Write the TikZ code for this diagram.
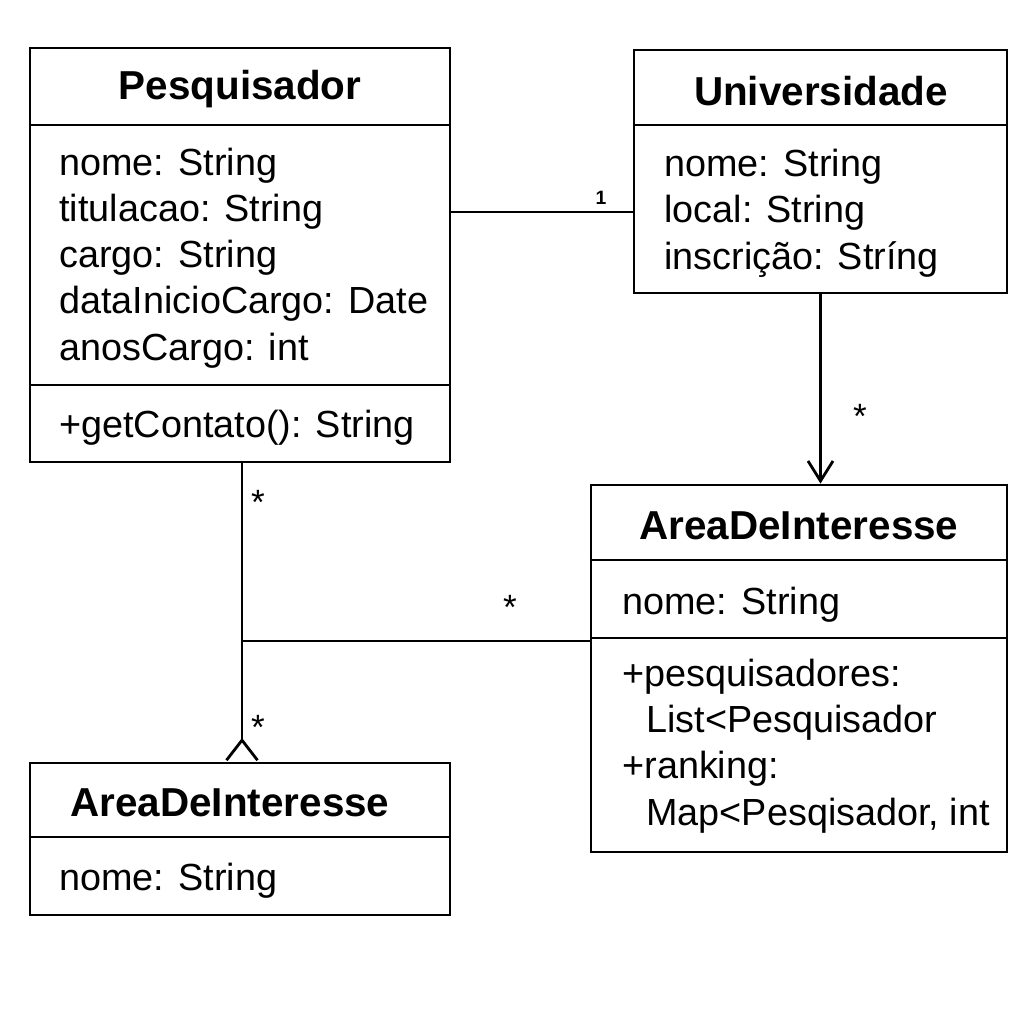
\documentclass[tikz,border=0pt]{standalone}
\usepackage{fontspec}
\setmainfont{Liberation Sans}
\usetikzlibrary{arrows.meta}

\begin{document}
\begin{tikzpicture}[
    line width=1.6pt,
    classbox/.style={draw, rectangle, inner sep=0pt},
    ctitle/.style={font=\fontsize{23}{27}\selectfont\bfseries},
    members/.style={anchor=base west, align=left, inner sep=0pt, font=\fontsize{21.5}{26.2}\selectfont},
    mult/.style={font=\fontsize{20}{24}\selectfont},
    assoc/.style={-{Straight Barb[length=0.4cm,width=0.5cm]}},
    back/.style={-{Straight Barb[reversed,length=0.4cm,width=0.62cm]}}
  ]
  \useasboundingbox (0,0) rectangle (20.48,-20.48);

  \node[classbox, minimum width=8.4cm, minimum height=8.28cm] (pes) at (4.8,-5.1) {};
  \node[classbox, minimum width=7.46cm, minimum height=4.86cm] (uni) at (16.41,-3.43) {};
  \node[classbox, minimum width=8.32cm, minimum height=7.34cm] (area) at (15.98,-13.37) {};
  \node[classbox, minimum width=8.4cm, minimum height=3.04cm] (arealeft) at (4.8,-16.78) {};

  \draw (pes.west |- 0,-2.5) -- (pes.east |- 0,-2.5);
  \draw (pes.west |- 0,-7.7) -- (pes.east |- 0,-7.7);
  \draw (uni.west |- 0,-2.5) -- (uni.east |- 0,-2.5);
  \draw (area.west |- 0,-11.2) -- (area.east |- 0,-11.2);
  \draw (area.west |- 0,-12.76) -- (area.east |- 0,-12.76);
  \draw (arealeft.west |- 0,-16.74) -- (arealeft.east |- 0,-16.74);

  \node[ctitle] (pestitle) at (4.8,-1.78) {Pesquisador};
  \node[ctitle] (unititle) at (16.42,-1.82) {Universidade};
  \node[ctitle] (areatitle) at (15.98,-10.52) {AreaDeInteresse};
  \node[ctitle] (arealefttitle) at (4.6,-16.06) {AreaDeInteresse};

  \node[members] (pesattr) at (1.16,-7.2) {nome: String\\titulacao: String\\cargo: String\\dataInicioCargo: Date\\anosCargo: int};
  \node[members] (pesops) at (1.16,-8.74) {+getContato(): String};
  \node[members] (uniattr) at (13.26,-5.38) {nome: String\\local: String\\inscrição: Stríng};
  \node[members] (areaattr) at (12.42,-12.28) {nome: String};
  \node[members] (areaops) at (12.42,-16.5) {+pesquisadores:\\\hspace{0.48cm}List<Pesquisador\\+ranking:\\\hspace{0.48cm}Map<Pesqisador, int};
  \node[members] (arealeftattr) at (1.16,-17.8) {nome: String};

  \coordinate (pu) at (0,-4.24);
  \coordinate (j) at (4.84,-12.82);

  \draw (pes.east |- pu) -- (uni.west |- pu);
  \draw[assoc] (uni.south) -- (uni.south |- area.north);
  \draw[back] (pes.south -| j) -- (arealeft.north -| j);
  \draw (j) -- (area.west |- j);

  \node[font=\fontsize{11}{13}\selectfont\bfseries] (m1) at (12.02,-3.96) {1};
  \node[mult] (m2) at (17.2,-8.32) {*};
  \node[mult] (m3) at (5.16,-10.04) {*};
  \node[mult] (m4) at (10.2,-12.14) {*};
  \node[mult] (m5) at (5.16,-14.54) {*};
\end{tikzpicture}
\end{document}
